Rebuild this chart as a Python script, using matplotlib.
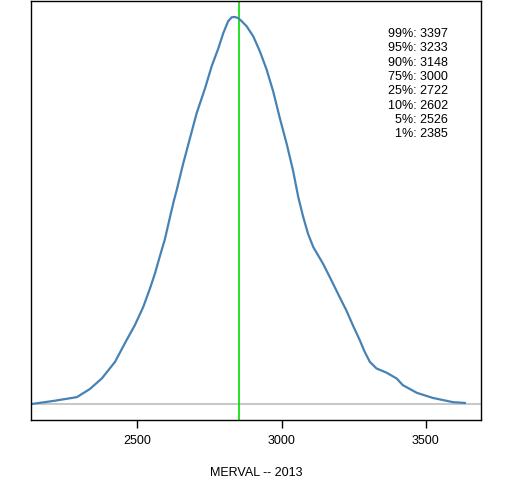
import numpy as np
import matplotlib.pyplot as plt

plt.rcParams['font.family'] = ['Liberation Sans', 'DejaVu Sans']

# density curve of MERVAL 2013 (relative height, peak = 1)
xs = [2131, 2208, 2291, 2336, 2377, 2406, 2423, 2463, 2492, 2521, 2544, 2561,
      2579, 2596, 2613, 2627, 2636, 2659, 2683, 2706, 2735, 2758, 2781, 2798,
      2815, 2827, 2838, 2850, 2862, 2879, 2902, 2925, 2948, 2971, 2994, 3018,
      3040, 3058, 3075, 3092, 3110, 3144, 3173, 3202, 3225, 3248, 3271, 3288,
      3306, 3329, 3364, 3399, 3420, 3469, 3524, 3594, 3635]
dens = [0.001, 0.009, 0.019, 0.040, 0.067, 0.094, 0.110, 0.166, 0.205, 0.252,
        0.299, 0.337, 0.384, 0.427, 0.482, 0.526, 0.551, 0.621, 0.688, 0.752,
        0.816, 0.873, 0.919, 0.958, 0.989, 0.999, 1.000, 0.997, 0.989, 0.976,
        0.950, 0.911, 0.865, 0.808, 0.739, 0.672, 0.603, 0.535, 0.484, 0.440,
        0.406, 0.363, 0.320, 0.276, 0.242, 0.203, 0.166, 0.136, 0.110, 0.093,
        0.082, 0.067, 0.050, 0.030, 0.017, 0.006, 0.004]
center = 2853

pct_labels = ['99%', '95%', '90%', '75%', '25%', '10%', '5%', '1%']
pct_values = [3397, 3233, 3148, 3000, 2722, 2602, 2526, 2385]

fig = plt.figure(figsize=(5.12, 4.8), dpi=100)
ax = fig.add_axes([0.06, 0.125, 0.88, 0.872])

ax.axhline(0, color='#bebebe', lw=1.2)
ax.axvline(center, color='#00dd00', lw=1.2)
ax.plot(xs, dens, color='#4682b4', lw=1.6, solid_joinstyle='round')

ax.set_xlim(2131, 3692)
ax.set_ylim(-0.04, 1.04)
ax.set_yticks([])
ax.set_xticks([2500, 3000, 3500])
ax.tick_params(axis='x', length=6, width=1, labelsize=9, pad=5)
for s in ax.spines.values():
    s.set_linewidth(1)
ax.set_xlabel('MERVAL -- 2013', fontsize=9, labelpad=14)

for i, (lab, val) in enumerate(zip(pct_labels, pct_values)):
    ax.text(0.926, 0.922 - i * 0.0342, f'{lab}: {val}', transform=ax.transAxes,
            ha='right', va='center', fontsize=9)

fig.savefig('out.png', dpi=100)
